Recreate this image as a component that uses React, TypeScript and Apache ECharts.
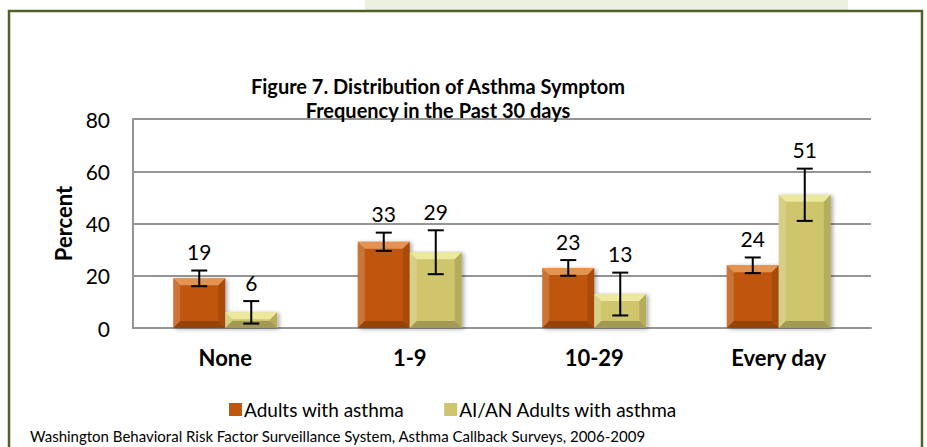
import React, { useEffect, useRef } from "react";
import * as echarts from "echarts";

const categories = ["None", "1-9", "10-29", "Every day"];
const seriesNames = ["Adults with asthma", "AI/AN Adults with asthma"];
const adultsValues = [19, 33, 23, 24];
const aianValues = [6, 29, 13, 51];
const adultsErrors = [3, 3.5, 3, 3];
const aianErrors = [4.3, 8.4, 8.2, 10];
const yTicks = [0, 20, 40, 60, 80];
const titleLines = ["Figure 7. Distribution of Asthma Symptom", "Frequency in the Past 30 days"];
const footnote = "Washington Behavioral Risk Factor Surveillance System, Asthma Callback Surveys, 2006-2009";

const ORANGE = "#C0570F";
const YELLOW = "#CFC56C";
const BAR_W = 52;
const FONT = "Lato, 'Open Sans', sans-serif";

export default function App() {
  const ref = useRef<HTMLDivElement>(null);
  useEffect(() => {
    if (!ref.current) return;
    const chart = echarts.init(ref.current, null, { renderer: "svg" });
    const overlayData: number[][] = [];
    adultsValues.forEach((v, i) => overlayData.push([i, v, adultsErrors[i], 0]));
    aianValues.forEach((v, i) => overlayData.push([i, v, aianErrors[i], 1]));

    const option: any = {
      animation: false,
      backgroundColor: "#fff",
      textStyle: { fontFamily: FONT },
      title: {
        text: titleLines.join("\n"),
        left: 433,
        textAlign: "center",
        top: 69,
        textStyle: { fontSize: 20, fontWeight: "bold", color: "#000", lineHeight: 24, fontFamily: FONT },
      },
      graphic: [
        { type: "rect", shape: { x: 365, y: 0, width: 483, height: 10 }, style: { fill: "#EBF1DE" }, z: -10 },
        {
          type: "rect",
          shape: { x: 9, y: 11, width: 913, height: 460 },
          style: { fill: "none", stroke: "#4F6228", lineWidth: 2.5 },
          z: -9,
        },
        {
          type: "text",
          left: 30,
          top: 428,
          style: { text: footnote, font: `15px ${FONT}`, fill: "#000" },
        },
      ],
      legend: {
        data: seriesNames,
        left: 224,
        top: 395,
        itemWidth: 13,
        itemHeight: 13,
        itemGap: 40,
        icon: "rect",
        textStyle: { fontSize: 19, color: "#000", fontFamily: FONT, padding: [0, 0, 0, -3] },
      },
      grid: { left: 133, right: 56, top: 119, bottom: 119, containLabel: false },
      xAxis: {
        type: "category",
        data: categories,
        axisLine: { lineStyle: { color: "#959595", width: 2 } },
        axisTick: { show: false },
        axisLabel: { fontSize: 22, fontWeight: "bold", color: "#000", margin: 18, fontFamily: FONT },
      },
      yAxis: {
        type: "value",
        min: yTicks[0],
        max: yTicks[yTicks.length - 1],
        interval: 20,
        name: "Percent",
        nameLocation: "middle",
        nameGap: 59,
        nameTextStyle: { fontSize: 22, fontWeight: "bold", color: "#000", fontFamily: FONT },
        axisLine: { show: true, lineStyle: { color: "#959595", width: 2 } },
        axisTick: { show: false },
        splitLine: { lineStyle: { color: "#959595", width: 2 } },
        axisLabel: { fontSize: 21, color: "#000", margin: 23, fontFamily: FONT },
      },
      series: [
        {
          name: seriesNames[0],
          type: "bar",
          data: adultsValues,
          barWidth: BAR_W,
          barGap: "0%",
          itemStyle: {
            color: ORANGE,
            shadowBlur: 4,
            shadowColor: "rgba(0,0,0,0.35)",
            shadowOffsetX: 2,
            shadowOffsetY: 1,
          },
        },
        {
          name: seriesNames[1],
          type: "bar",
          data: aianValues,
          barWidth: BAR_W,
          barGap: "0%",
          itemStyle: {
            color: YELLOW,
            shadowBlur: 4,
            shadowColor: "rgba(0,0,0,0.35)",
            shadowOffsetX: 2,
            shadowOffsetY: 1,
          },
        },
        {
          name: "overlay",
          type: "custom",
          silent: true,
          clip: false,
          z: 5,
          encode: { x: 0, y: 1 },
          data: overlayData,
          renderItem: (params: any, api: any) => {
            const cat = api.value(0);
            const val = api.value(1);
            const err = api.value(2);
            const g = api.value(3);
            const base = api.coord([cat, 0]);
            const top = api.coord([cat, val]);
            const hi = api.coord([cat, val + err]);
            const lo = api.coord([cat, Math.max(0, val - err)]);
            const x = base[0] + (g === 0 ? -1 : 1) * (BAR_W / 2);
            const x0 = x - BAR_W / 2;
            const x1 = x + BAR_W / 2;
            const yT = top[1];
            const yB = base[1];
            const b = Math.min(7, (yB - yT) / 2);
            const light = g === 0 ? "rgba(255,200,140,0.55)" : "rgba(255,255,190,0.6)";
            const children: any[] = [
              {
                type: "polygon",
                shape: { points: [[x0, yT], [x1, yT], [x1 - b, yT + b], [x0 + b, yT + b]] },
                style: { fill: light },
              },
              {
                type: "polygon",
                shape: { points: [[x0, yT], [x0 + b, yT + b], [x0 + b, yB - b], [x0, yB]] },
                style: { fill: "rgba(255,255,255,0.18)" },
              },
              {
                type: "polygon",
                shape: { points: [[x1, yT], [x1, yB], [x1 - b, yB - b], [x1 - b, yT + b]] },
                style: { fill: "rgba(0,0,0,0.12)" },
              },
              {
                type: "polygon",
                shape: { points: [[x0, yB], [x1, yB], [x1 - b, yB - b], [x0 + b, yB - b]] },
                style: { fill: "rgba(0,0,0,0.22)" },
              },
              {
                type: "line",
                shape: { x1: x, y1: hi[1], x2: x, y2: lo[1] },
                style: { stroke: "#000", lineWidth: 2 },
              },
              {
                type: "line",
                shape: { x1: x - 8, y1: hi[1], x2: x + 8, y2: hi[1] },
                style: { stroke: "#000", lineWidth: 2 },
              },
              {
                type: "line",
                shape: { x1: x - 8, y1: lo[1], x2: x + 8, y2: lo[1] },
                style: { stroke: "#000", lineWidth: 2 },
              },
              {
                type: "text",
                x: x,
                y: hi[1] - 19,
                style: {
                  text: String(val),
                  font: `21px ${FONT}`,
                  fill: "#000",
                  align: "center",
                  verticalAlign: "middle",
                },
              },
            ];
            return { type: "group", children };
          },
        },
      ],
    };
    chart.setOption(option);
    return () => chart.dispose();
  }, []);
  return (
    <div
      ref={ref}
      style={{ position: "fixed", left: 0, top: 0, width: 927, height: 447 }}
    />
  );
}
